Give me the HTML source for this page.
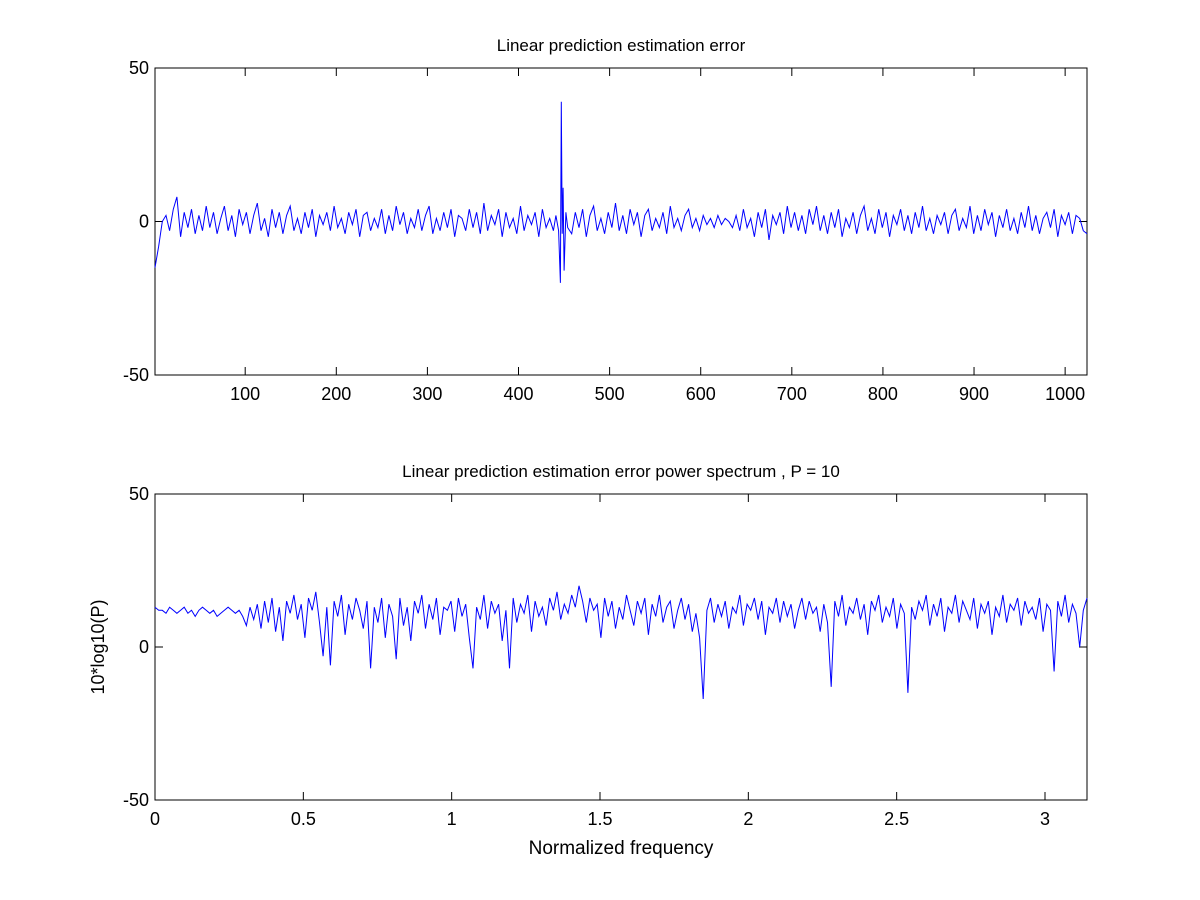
<!DOCTYPE html>
<html><head><meta charset="utf-8"><style>
html,body{margin:0;padding:0;background:#fff;}
svg{display:block;font-family:"Liberation Sans",Arial,sans-serif;}
</style></head><body>
<svg id="fig" width="1200" height="900" viewBox="0 0 1200 900">
<rect width="1200" height="900" fill="#fff"/>
</svg>
<script>
const topValues=[-15,-8,0,2,-3,4,8,-5,3,-2,4,-4,2,-3,5,-2,
3,-4,1,5,-3,2,-5,4,-1,3,-4,2,6,-3,1,-5,
4,-2,3,-4,2,5,-3,1,-4,3,-2,4,-5,2,-1,3,
-3,5,-2,1,-4,3,-1,4,-5,2,3,-3,1,-2,4,-4,
2,-3,5,-1,3,-4,1,-2,4,-3,2,5,-4,1,-3,3,
-2,4,-5,2,1,-3,4,-2,3,-4,6,-3,2,-1,4,-5,
3,-2,1,-4,5,-3,2,-1,3,-5,4,-2,1,-3,2,0,
0,0,-4,3,-2,4,-5,2,5,-3,1,-4,3,-2,6,-3,
2,-4,4,-1,3,-5,2,4,-3,1,-2,3,-4,5,-2,1,
-3,2,4,-2,1,-3,2,-1,1,-2,2,-1,1,0,-2,2,
-3,4,-2,1,-5,3,-2,4,-6,2,-1,3,-4,5,-2,3,
-3,2,-4,4,-1,5,-3,2,-4,3,-2,4,-5,1,-2,3,
-4,2,5,-3,1,-4,4,-2,3,-5,2,-1,4,-3,2,-4,
3,-2,5,-3,1,-4,2,-1,3,-4,2,4,-3,1,-2,5,
-4,2,-3,4,-1,3,-5,2,-2,4,-3,1,-4,3,-2,5,
-3,2,-4,1,3,-2,4,-5,2,-1,3,-4,2,1,-3,-4];
const spikeIdx=[441,444,446,447,448,449,450,452,454];
const spikeVal=[2,-3,-20,39,-4,11,-16,3,-2];
const botValues=[13,12,12,11,13,12,11,12,13,11,12,10,12,13,12,11,
12,10,11,12,13,12,11,12,10,7,13,9,14,6,15,8,
16,5,13,2,15,11,17,9,14,3,16,12,18,8,-3,13,
-6,15,10,17,4,14,9,16,12,6,15,-7,13,8,16,3,
14,10,-4,16,7,13,2,15,11,17,6,14,9,16,4,13,
12,15,5,16,10,14,3,-7,13,9,17,6,15,11,14,2,
12,-7,16,8,14,11,17,5,15,10,13,7,16,12,18,9,
14,11,17,13,20,15,8,16,12,14,3,16,10,15,6,13,
9,17,12,7,15,11,16,4,14,10,17,8,13,15,6,12,
16,9,14,5,11,3,-17,12,16,8,14,10,15,6,13,11,
17,7,14,12,16,9,15,4,13,11,16,8,15,10,14,6,
12,16,9,15,11,13,5,14,8,-13,15,10,17,7,13,11,
16,9,14,4,15,12,17,8,13,10,16,6,14,11,-15,13,
9,15,12,17,7,14,10,16,5,13,11,17,8,15,12,9,
16,6,14,11,15,4,13,10,17,8,14,12,16,7,15,11,
13,9,16,5,14,12,-8,15,10,17,8,14,11,0,12,16];
const topXTicks=[100,200,300,400,500,600,700,800,900,1000];
const botXTicks=[0,0.5,1,1.5,2,2.5,3];
const botXLabels=["0","0.5","1","1.5","2","2.5","3"];
const yTicks=[-50,0,50];

const NS="http://www.w3.org/2000/svg";
const svg=document.getElementById('fig');
function mk(tag,attrs,parent,text){const e=document.createElementNS(NS,tag);for(const k in attrs)e.setAttribute(k,attrs[k]);if(text!==undefined)e.textContent=text;(parent||svg).appendChild(e);return e;}

function drawAxes(L,T,R,B,xmin,xmax,xt,xl,title,prefix){
  const g=mk('g',{});
  
  
  const sx=v=>L+(v-xmin)/(xmax-xmin)*(R-L);
  const sy=v=>B-(v+50)/100*(B-T);
  const box=mk('rect',{x:L,y:T,width:R-L,height:B-T,fill:'#fff',stroke:'#000','stroke-width':1},g);
  
  
  xt.forEach((v,i)=>{
    const x=sx(v);
    mk('line',{x1:x,x2:x,y1:B,y2:B-8,stroke:'#000'},g);
    mk('line',{x1:x,x2:x,y1:T,y2:T+8,stroke:'#000'},g);
    const t=mk('text',{x:x,y:B+25,'font-size':18,'text-anchor':'middle'},g,xl[i]);
    
    
  });
  yTicks.forEach(v=>{
    const y=sy(v);
    mk('line',{x1:L,x2:L+8,y1:y,y2:y,stroke:'#000'},g);
    mk('line',{x1:R,x2:R-8,y1:y,y2:y,stroke:'#000'},g);
    const t=mk('text',{x:L-6,y:y+6,'font-size':18,'text-anchor':'end'},g,String(v));
    
    
  });
  const tt=mk('text',{x:(L+R)/2,y:T-17,'font-size':17,'text-anchor':'middle'},g,title);
  
  
  return {sx,sy,g};
}

// top
const A=drawAxes(155,68,1087,375,1,1024,topXTicks,topXTicks.map(String),'Linear prediction estimation error','top');
let pts=[];
const stepT=1023/(topValues.length-1);
topValues.forEach((v,i)=>{const idx=1+i*stepT;if(idx<440||idx>455)pts.push([idx,v]);});
spikeIdx.forEach((k,i)=>pts.push([k,spikeVal[i]]));
pts.sort((a,b)=>a[0]-b[0]);
const p1=mk('polyline',{points:pts.map(p=>A.sx(p[0]).toFixed(1)+','+A.sy(p[1]).toFixed(1)).join(' '),fill:'none',stroke:'#0000ff','stroke-width':1},A.g);



// bottom
const Bx=drawAxes(155,494,1087,800,0,Math.PI,botXTicks,botXLabels,'Linear prediction estimation error power spectrum , P = 10','bottom');
const stepB=Math.PI/(botValues.length-1);
const p2=mk('polyline',{points:botValues.map((v,i)=>Bx.sx(i*stepB).toFixed(1)+','+Bx.sy(v).toFixed(1)).join(' '),fill:'none',stroke:'#0000ff','stroke-width':1},Bx.g);


const xl=mk('text',{x:621,y:854,'font-size':19,'text-anchor':'middle'},null,'Normalized frequency');


const yl=mk('text',{x:0,y:0,'font-size':18,'text-anchor':'middle',transform:'translate(104,647) rotate(-90)'},null,'10*log10(P)');


</script>
</body></html>
